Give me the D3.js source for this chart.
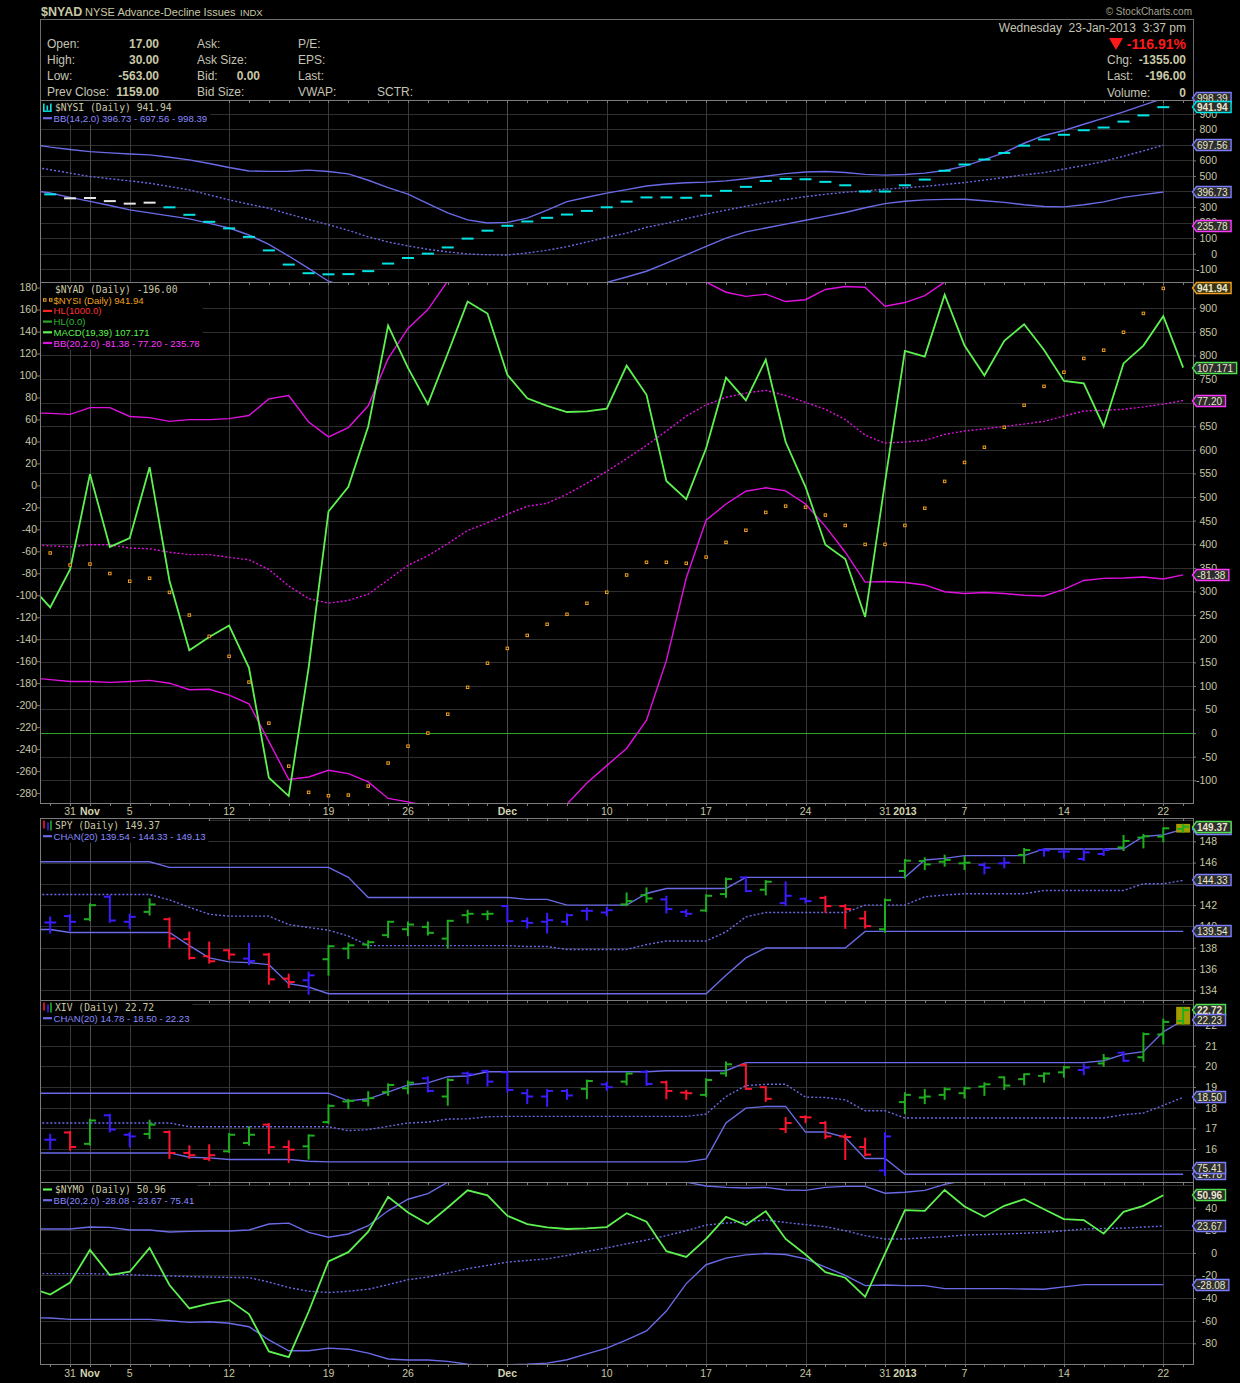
<!DOCTYPE html>
<html>
<head>
<meta charset="utf-8">
<title>$NYAD NYSE Advance-Decline Issues</title>
<script src="https://cdn.jsdelivr.net/npm/d3@7"></script>
<style>
  body { margin: 0; background: #000; }
  svg { display: block; }
</style>
</head>
<body>
<div id="chart"></div>
<script>

// trading days (first one only feeds the lines that run into the left edge)
const days = ["2012-10-25","2012-10-26","2012-10-31","2012-11-01","2012-11-02","2012-11-05","2012-11-06","2012-11-07","2012-11-08","2012-11-09",
  "2012-11-12","2012-11-13","2012-11-14","2012-11-15","2012-11-16","2012-11-19","2012-11-20","2012-11-21","2012-11-23","2012-11-26",
  "2012-11-27","2012-11-28","2012-11-29","2012-11-30","2012-12-03","2012-12-04","2012-12-05","2012-12-06","2012-12-07","2012-12-10",
  "2012-12-11","2012-12-12","2012-12-13","2012-12-14","2012-12-17","2012-12-18","2012-12-19","2012-12-20","2012-12-21","2012-12-24",
  "2012-12-26","2012-12-27","2012-12-28","2012-12-31","2013-01-02","2013-01-03","2013-01-04","2013-01-07","2013-01-08","2013-01-09",
  "2013-01-10","2013-01-11","2013-01-14","2013-01-15","2013-01-16","2013-01-17","2013-01-18","2013-01-22","2013-01-23"];

const tickDays = ["2012-10-31","2012-11-01","2012-11-05","2012-11-12","2012-11-19","2012-11-26","2012-12-03","2012-12-10",
  "2012-12-17","2012-12-24","2012-12-31","2013-01-02","2013-01-07","2013-01-14","2013-01-22"];
const tickText = ["31","Nov","5","12","19","26","Dec","10","17","24","31","2013","7","14","22"];
const tickBold = [0,1,0,0,0,0,1,0,0,0,0,1,0,0,0];

// header quote
const quoteLeftLabels = ["Open:", "High:", "Low:", "Prev Close:"];
const quoteLeftValues = ["17.00", "30.00", "-563.00", "1159.00"];
const quoteMidLabels = ["Ask:", "Ask Size:", "Bid:", "Bid Size:"];
const quoteMidValues = ["", "", "0.00", ""];
const quoteRightLabels = ["P/E:", "EPS:", "Last:", "VWAP:"];
const nyadLast = -196.00;

// $NYSI (summation index) and its BB(14,2)
const nysi = [null, 381.5, 356, 358, 338, 321.7, 328, 298, 250, 205, 162.6, 108, 21, -70, -125.5, -132.7, -131.3, -112.3, -63.5, -27.7,
  0, 40, 97, 148, 179.4, 207, 230.5, 251.6, 275, 298.3, 334.8, 361.8, 361.8, 359.6, 372.7, 404, 429.6, 467.5, 480.7, 478.5,
  461.7, 439.8, 399.7, 399.7, 439.8, 476.3, 533.2, 573.3, 605.4, 647.7, 694.4, 734.5, 764.4, 793.6, 811, 849, 889, 941.94, null];
const nysiWhiteDays = ["2012-10-31","2012-11-01","2012-11-02","2012-11-05","2012-11-06"];
const nysiUpper = [705, 685, 670, 656, 648, 641, 635, 620, 603, 580, 554, 532, 529, 530, 537, 528, 513, 472, 425, 383,
  322, 262, 217, 197, 201, 229, 280, 335, 363, 389, 412, 435, 448, 456, 460, 468, 482, 498, 515, 525,
  528, 522, 510, 505, 509, 518, 535, 563, 605, 650, 710, 760, 792, 832, 872, 912, 955, 998.39, null];
const nysiMid = [560, 540, 518, 496, 482, 468, 453, 432, 410, 378, 346, 318, 292, 255, 220, 186, 150, 108, 75, 50,
  28, 12, -2, -7, -8.6, 5, 22, 45, 75, 105, 132, 170, 195, 225, 254, 280, 305, 328, 348, 367,
  382, 395, 404, 415, 423, 433, 445, 457, 473, 490, 507, 521, 544, 567, 593, 627, 661, 697.56, null];
const nysiLower = [410, 390, 362, 336, 310, 282, 262, 243, 224, 195, 165, 120, 60, -15, -95, -177, -215, -265, -280, -283,
  -265, -241, -222, -211, -218, -220, -236, -228, -213, -185, -150, -113, -60, -8, 47, 100, 140, 165, 190, 215,
  240, 265, 295, 322, 337, 346, 349, 350, 340, 330, 315, 303, 301, 315, 333, 362, 380, 396.73, null];

// MACD(19,39) of $NYAD and its BB(20,2)
const macd = [-91, -111, -76.5, 10.3, -56, -48, 16.6, -86.8, -150, -138, -127.5, -166, -266, -282.7, -166, -23.8, -1.3, 53.6, 145.4, 106.9,
  74, 120, 167.3, 156.4, 100.6, 79.3, 72.4, 66.8, 67.4, 69.9, 109, 82.4, 4, -12.5, 33.8, 98, 77.4, 114.4, 39.5, -1.3,
  -54, -67, -119.7, 3, 122.5, 117.2, 173.6, 127.2, 100, 131.6, 146.7, 123.2, 95, 92.8, 53.6, 111, 127.2, 153.9, 107.171];
const macdUpper = [66, 65.5, 64.6, 70.8, 70.8, 62.7, 61.7, 58.3, 59.9, 59.9, 60.8, 63.6, 78.7, 81.8, 57.7, 44.2, 52.6, 72.4, 115.3, 142.9,
  160, 186, 205, 220, 235, 245, 250, 252, 250, 245, 235, 220, 205, 192, 185, 175.8, 172, 174, 167.3, 169,
  178.3, 181, 180.3, 163, 166.4, 172.7, 185, 195, 205, 215, 225, 232, 236, 238, 240, 238, 236, 235, 235.78];
const macdMid = [-54, -55, -56, -54, -54, -57, -57.7, -60.8, -63, -63, -65.5, -67.7, -76.5, -91.5, -103, -107.2, -104.7, -99, -85.9, -72.7,
  -64, -53, -41, -34, -26.3, -19, -16.3, -8, 2, 12.8, 24.4, 36.4, 49.5, 63, 73.3, 80.2, 84, 86.5, 81.8, 75.5,
  69.3, 59.9, 45.8, 38.5, 39.5, 41, 46.4, 49.5, 51.4, 53.6, 55.8, 58.3, 63, 67.7, 68.3, 69.3, 71.4, 74, 77.20];
const macdLower = [-175, -176.8, -178.4, -178.4, -179.3, -178.4, -177.4, -180, -186, -185.5, -190.8, -198.7, -233, -267.6, -265.4, -259.2, -262.3, -269.8, -284.9, -288,
  -292, -300, -310, -318, -320, -315, -305, -290, -270.8, -255, -239.4, -213.7, -159.5, -84.3, -31.7, -16.9, -5.3, -2.2, -5, -16.9,
  -37.3, -60.8, -88, -87.4, -88.4, -90.6, -96.8, -98.4, -97.5, -98.4, -100, -100.6, -94.6, -86.5, -84.6, -84.3, -83.4, -85.2, -81.38];
const hlLevels = [1000, 0];

// SPY daily bars, impulse colours and CHAN(20)
const spyOpen = [null, 140.37, 140.97, 140.68, 142.79, 140.44, 141.37, 140.68, 138.80, 137.20, 137.76, 136.98, 137.36, 135.10, 134.94, 136.92, 137.92, 138.30, 139.18, 139.74,
  139.96, 138.86, 141.06, 141.15, 141.91, 140.50, 140.44, 140.44, 141.47, 141.31, 142.07, 142.94, 142.54, 141.37, 141.50, 143.04, 144.61, 143.45, 142.19, 142.60,
  142.69, 141.91, 140.75, 139.74, 145.21, 146.15, 146.08, 145.93, 145.77, 145.93, 146.71, 147.18, 147.03, 146.34, 146.81, 147.43, 148.35, 148.44, 149.16];
const spyHigh = [null, 140.84, 141.06, 142.07, 142.85, 141.12, 142.54, 140.75, 139.43, 138.49, 137.76, 138.36, 137.42, 135.47, 135.66, 138.17, 138.39, 138.61, 140.44, 140.37,
  140.37, 140.53, 141.47, 141.41, 141.94, 140.75, 141.19, 141.12, 141.69, 141.75, 143.10, 143.57, 142.79, 141.53, 142.94, 144.51, 144.61, 144.26, 144.14, 142.63,
  142.79, 142.00, 141.37, 142.54, 146.24, 146.40, 146.65, 146.56, 145.93, 146.40, 147.28, 147.28, 147.18, 147.28, 147.28, 148.50, 148.60, 149.22, 149.54];
const spyLow = [null, 139.43, 139.65, 140.59, 140.44, 139.87, 141.12, 138.08, 136.98, 136.60, 136.98, 136.45, 134.62, 134.31, 133.68, 135.47, 137.04, 137.98, 139.02, 139.18,
  139.24, 138.02, 140.37, 140.68, 140.44, 139.90, 139.43, 140.18, 140.65, 141.06, 142.00, 142.32, 141.31, 140.97, 141.44, 142.79, 143.32, 143.01, 142.00, 142.25,
  141.37, 139.87, 139.90, 139.49, 144.58, 145.39, 145.71, 145.39, 144.99, 145.55, 145.99, 146.65, 146.46, 146.24, 146.71, 147.18, 147.43, 148.00, 148.91];
const spyClose = [null, 140.37, 140.44, 142.00, 140.56, 140.90, 142.07, 138.86, 137.04, 136.73, 137.36, 136.76, 135.03, 134.78, 135.41, 138.14, 138.23, 138.52, 140.44, 140.18,
  139.40, 140.53, 141.19, 141.19, 140.50, 140.34, 140.59, 141.06, 141.47, 141.53, 142.38, 142.63, 141.63, 141.19, 142.88, 144.45, 143.32, 144.20, 142.88, 142.38,
  141.91, 141.63, 140.03, 142.47, 146.18, 145.83, 146.24, 145.99, 145.52, 145.99, 147.18, 147.15, 147.03, 146.96, 147.18, 148.03, 148.47, 149.22, 149.37];
const spyImpulse = [null].concat("bbgbbgrrrrbrrbgggggggggbbbbbbggbbggbgbbrrrgggggbbgbbbbgggg".split(""));
const spyChanUpper = [146.08, 146.08, 146.08, 146.08, 146.08, 146.08, 146.08, 145.55, 145.55, 145.55, 145.55, 145.55, 145.55, 145.55, 145.55, 145.55, 144.61,
  142.72, 142.72, 142.72, 142.72, 142.72, 142.72, 142.72, 142.72, 142.54, 142.54, 142.00, 142.00, 142.00, 142.00, 143.10, 143.57, 143.57, 143.57, 143.57,
  144.61, 144.61, 144.61, 144.61, 144.61, 144.61, 144.61, 144.61, 144.61, 146.24, 146.40, 146.65, 146.65, 146.65, 146.65, 147.28, 147.28, 147.28, 147.28,
  147.30, 148.45, 148.60, 149.13];
const spyChanMid = [143.00, 143.00, 143.00, 143.00, 143.00, 143.00, 143.00, 142.50, 141.80, 141.15, 140.97, 140.97, 140.97, 140.18, 139.90, 139.65, 139.10,
  138.20, 138.20, 138.20, 138.20, 138.20, 138.20, 138.20, 138.20, 138.11, 138.11, 137.84, 137.84, 137.84, 137.84, 138.30, 138.63, 138.63, 138.63, 139.49,
  140.90, 141.31, 141.31, 141.31, 141.31, 141.31, 142.00, 142.00, 142.00, 142.79, 142.95, 143.07, 143.07, 143.07, 143.07, 143.38, 143.38, 143.38, 143.38,
  143.38, 144.01, 144.01, 144.33];
const spyChanLower = [139.71, 139.71, 139.43, 139.43, 139.43, 139.43, 139.43, 139.43, 138.20, 137.04, 136.67, 136.60, 136.41, 134.62, 134.31,
  133.68, 133.68, 133.68, 133.68, 133.68, 133.68, 133.68, 133.68, 133.68, 133.68, 133.68, 133.68, 133.68, 133.68, 133.68, 133.68, 133.68, 133.68, 133.68, 133.68,
  135.41, 137.04, 137.98, 137.98, 137.98, 137.98, 137.98, 139.54, 139.54, 139.54, 139.54, 139.54, 139.54, 139.54, 139.54, 139.54, 139.54, 139.54, 139.54,
  139.54, 139.54, 139.54, 139.54, 139.54];

// XIV daily bars, impulse colours and CHAN(20)
const xivOpen = [null, 16.45, 16.80, 16.25, 17.63, 16.69, 16.73, 16.82, 15.81, 15.52, 15.89, 16.29, 17.18, 16.10, 16.13, 17.30, 18.30, 18.33, 18.75, 18.94,
  19.42, 18.54, 19.66, 19.78, 19.71, 18.70, 18.54, 18.81, 18.91, 19.13, 19.26, 19.74, 19.23, 18.73, 18.62, 19.66, 20.07, 18.99, 16.97, 17.55,
  17.26, 16.61, 16.10, 14.96, 18.27, 18.49, 18.62, 18.70, 19.02, 19.47, 19.38, 19.54, 19.71, 19.82, 20.14, 20.66, 20.44, 21.54, 22.20];
const xivHigh = [null, 16.69, 16.82, 17.42, 17.66, 16.77, 17.37, 16.85, 16.13, 16.18, 16.73, 17.05, 17.21, 16.37, 16.66, 18.11, 18.38, 18.75, 19.13, 19.26,
  19.47, 19.38, 19.70, 19.79, 19.74, 18.86, 18.86, 18.86, 19.31, 19.21, 19.66, 19.78, 19.26, 18.81, 19.38, 20.19, 20.10, 18.99, 17.50, 17.58,
  17.30, 16.69, 16.50, 16.77, 18.70, 18.86, 18.94, 18.97, 19.18, 19.47, 19.62, 19.66, 19.98, 20.10, 20.55, 20.68, 21.59, 22.26, 22.83];
const xivLow = [null, 16.00, 15.97, 16.21, 16.85, 16.13, 16.53, 15.57, 15.57, 15.46, 15.86, 16.21, 15.81, 15.38, 15.54, 17.26, 17.98, 18.11, 18.62, 18.70,
  18.78, 18.14, 19.18, 19.07, 18.78, 18.22, 18.09, 18.43, 18.46, 18.86, 19.13, 19.10, 18.46, 18.43, 18.57, 19.55, 18.91, 18.33, 16.82, 17.30,
  16.53, 15.52, 15.70, 14.74, 17.74, 18.22, 18.43, 18.49, 18.62, 18.91, 19.13, 19.26, 19.50, 19.62, 20.03, 20.26, 20.27, 21.11, 22.07];
const xivClose = [null, 16.45, 16.10, 17.38, 16.94, 16.61, 17.18, 15.81, 15.70, 15.70, 16.69, 16.69, 16.09, 15.97, 16.65, 18.09, 18.33, 18.46, 19.10, 19.21,
  18.81, 19.34, 19.62, 19.26, 18.86, 18.54, 18.81, 18.59, 19.29, 18.99, 19.65, 19.15, 18.81, 18.70, 19.34, 20.10, 18.91, 18.43, 17.26, 17.53,
  16.61, 16.58, 15.73, 16.61, 18.62, 18.54, 18.89, 18.94, 19.13, 19.07, 19.62, 19.65, 19.95, 19.94, 20.39, 20.27, 21.56, 22.15, 22.72];
const xivImpulse = [null].concat("brgbbgrrrggrrggggggbgbbbbbbgbgbrrggrrrrrrrbgggggggggbgbggg".split(""));
const xivChanUpper = [18.70, 18.70, 18.70, 18.70, 18.70, 18.70, 18.70, 18.70, 18.70, 18.70, 18.70, 18.70, 18.70, 18.70, 18.70, 18.70,
  18.33, 18.43, 18.75, 19.10, 19.20, 19.50, 19.53, 19.74, 19.74, 19.74, 19.74, 19.74, 19.74, 19.74, 19.74, 19.74, 19.79, 19.79, 19.79, 19.79,
  20.18, 20.18, 20.18, 20.18, 20.18, 20.18, 20.18, 20.18, 20.18, 20.18, 20.18, 20.18, 20.18, 20.18, 20.18, 20.18, 20.18, 20.18,
  20.27, 20.58, 20.71, 21.67, 22.23];
const xivChanMid = [17.26, 17.26, 17.26, 17.26, 17.26, 17.26, 17.26, 17.26, 17.08, 17.08, 17.08, 17.08, 17.08, 17.08, 17.08, 17.08,
  16.89, 16.94, 17.10, 17.26, 17.30, 17.45, 17.46, 17.56, 17.58, 17.58, 17.58, 17.58, 17.58, 17.58, 17.58, 17.58, 17.58, 17.58,
  17.69, 18.54, 19.07, 19.13, 19.13, 18.51, 18.49, 18.38, 17.85, 17.85, 17.50, 17.50, 17.50, 17.50, 17.50, 17.50, 17.50, 17.50, 17.50, 17.50, 17.50,
  17.66, 17.74, 18.11, 18.50];
const xivChanLower = [15.81, 15.81, 15.81, 15.81, 15.81, 15.81, 15.81, 15.81, 15.60, 15.57, 15.49, 15.49, 15.49, 15.49, 15.41,
  15.38, 15.38, 15.38, 15.38, 15.38, 15.38, 15.38, 15.38, 15.38, 15.38, 15.38, 15.38, 15.38, 15.38, 15.38, 15.38, 15.38, 15.38, 15.38,
  15.52, 17.26, 17.98, 18.06, 18.06, 16.82, 16.82, 16.56, 15.54, 15.54,
  14.78, 14.78, 14.78, 14.78, 14.78, 14.78, 14.78, 14.78, 14.78, 14.78, 14.78, 14.78, 14.78, 14.78, 14.78];

// $NYMO (McClellan oscillator) and its BB(20,2)
const nymo = [-31, -36.9, -26.3, 2.6, -19.6, -16.7, 4.4, -28.4, -49.2, -44.8, -41.8, -54.1, -87.2, -92.2, -52.1, -7.6, 0.6, 18.7, 49.5, 35.7,
  25.5, 40.1, 55.3, 50.9, 32.8, 25.5, 22.5, 21.1, 21.7, 22.8, 35.1, 27.5, 1.5, -3.6, 12.3, 31.9, 24.6, 36.9, 12.3, -1.5,
  -17, -22, -38.9, -0.6, 37.8, 37.2, 55.6, 41, 31.9, 41.6, 47.4, 38.6, 29.9, 29, 17, 36.3, 41.6, 50.96, null];
const nymoUpper = [21.1, 21.1, 21.1, 22.8, 22.5, 20.2, 20.2, 18.4, 19, 19.3, 19.3, 20.2, 25.5, 26.3, 18.1, 13.8, 16.7, 24, 37.2, 47.4,
  52.4, 62.5, 70, 78, 82, 85, 86, 85, 82, 78, 74, 70, 66, 62.5, 59.1, 57.9, 57.4, 57.9, 55.6, 55.3,
  57.9, 58.8, 58.8, 52.7, 53.6, 55.3, 60.6, 64, 67, 70, 72, 73, 74, 75, 75, 75.5, 75.5, 75.41, null];
const nymoMid = [-18.4, -18.4, -18.4, -18.4, -18.8, -19.3, -19.9, -20.5, -21, -21.4, -21.7, -21.9, -25.8, -30.7, -33.9, -35.1, -33.9, -32.2, -28.1, -23.7,
  -21.4, -17.9, -14, -11.1, -8.2, -6.7, -5.3, -2.3, 1.2, 4.4, 8, 11.4, 15.2, 19.6, 24.6, 26.3, 27.6, 29, 26.9, 24.9,
  23.1, 19.6, 15.2, 12.3, 12.3, 13.3, 14.3, 15.8, 16.2, 16.7, 17.4, 18.1, 19.6, 21.1, 21.5, 21.9, 22.8, 23.67, null];
const nymoLower = [-57.4, -57.6, -58.8, -58.8, -58.8, -58.8, -58.8, -60, -61.5, -60.9, -62.3, -65.3, -77, -86.6, -86.6, -84.3, -85.2, -88.7, -93.9, -94.8,
  -94.8, -96, -98.5, -100, -99, -98.5, -97.5, -94.5, -89.3, -84.3, -77, -69.1, -51.5, -27.2, -10.5, -4.7, -1.8, -0.6, -1.5, -5.3,
  -12.6, -19.9, -29, -28.4, -29, -29, -31.6, -31.6, -31.6, -31.6, -32, -32.2, -30.1, -28.1, -28.1, -28.1, -28.1, -28.08, null];

// tick values of the price axes
const nysiTicks = [-100, 0, 100, 200, 300, 400, 500, 600, 700, 800, 900];
const macdTicks = [-280, -260, -240, -220, -200, -180, -160, -140, -120, -100, -80, -60, -40, -20, 0, 20, 40, 60, 80, 100, 120, 140, 160, 180];
const nysiOverlayTicks = [-100, -50, 0, 50, 100, 150, 200, 250, 300, 350, 400, 450, 500, 550, 600, 650, 700, 750, 800, 850, 900];
const spyTicks = [134, 136, 138, 140, 142, 144, 146, 148];
const spyGrid = [134, 136, 138, 140, 142, 144, 146, 148, 150];
const xivTicks = [15, 16, 17, 18, 19, 20, 21, 22];
const xivGrid = [15, 16, 17, 18, 19, 20, 21, 22, 23];
const nymoTicks = [-80, -60, -40, -20, 0, 20, 40];
const nymoGrid = [-80, -60, -40, -20, 0, 20, 40, 60];

// ---------------------------------------------------------------

const W = 1240, H = 1383;
const left = 40, right = 1193;
const sans = '"Liberation Sans", Arial, sans-serif';
const mono = '"DejaVu Sans Mono", monospace';

const khaki = '#c8c8a6';
const bbLine = '#6a6ae6';
const bbText = '#8a8aff';
const magenta = '#e010e0';
const magentaText = '#ff38ff';
const macdGreen = '#5ef250';
const hlGreen = '#2aa52a';
const orange = '#eea020';
const cyan = '#00e4e4';
const barColor = { g: '#1fae1f', r: '#ff1430', b: '#3a1cff' };

const panels = {
  nysi: { top: 100, bottom: 282 },
  nyad: { top: 282, bottom: 803 },
  spy: { top: 818, bottom: 1000 },
  xiv: { top: 1000, bottom: 1182 },
  nymo: { top: 1182, bottom: 1364 }
};

const svg = d3.select('#chart').append('svg')
  .attr('width', W)
  .attr('height', H)
  .attr('font-family', sans);
svg.append('rect').attr('width', W).attr('height', H).attr('fill', '#000');
const defs = svg.append('defs');

const x = d3.scalePoint().domain(days).range([20.4, 1193.1]).padding(0.5);

const yNysi = d3.scaleLinear().domain([-182, 988]).range([282, 100]);
const yMacd = d3.scaleLinear().domain([-289.4, 185.1]).range([803.4, 282]);
const yNysi2 = d3.scaleLinear().domain([-148.9, 955.5]).range([803.4, 282]);
const ySpy = d3.scaleLinear().domain([133.09, 150.16]).range([1000, 818.3]);
const yXiv = d3.scaleLinear().domain([14.37, 23.21]).range([1182.7, 1000]);
const yNymo = d3.scaleLinear().domain([-98.3, 62.4]).range([1364, 1182.3]);

const lastVal = arr => { for (let i = arr.length - 1; i >= 0; i--) if (arr[i] != null) return arr[i]; };
const f2 = v => v.toFixed(2);

// grid + clip for one panel, returns the clipped group for the marks
function frame(p, gridVals, gridScale, id) {
  const g = svg.append('g');
  g.selectAll('line.hg')
    .data(gridVals.filter(v => gridScale(v) > p.top + 1 && gridScale(v) < p.bottom - 1))
    .join('line')
      .attr('class', 'hg')
      .attr('x1', left).attr('x2', right)
      .attr('y1', v => Math.round(gridScale(v)) + 0.5)
      .attr('y2', v => Math.round(gridScale(v)) + 0.5)
      .attr('stroke', '#2f2f2f');
  g.selectAll('line.vg')
    .data(tickDays)
    .join('line')
      .attr('class', 'vg')
      .attr('x1', d => Math.round(x(d)) + 0.5).attr('x2', d => Math.round(x(d)) + 0.5)
      .attr('y1', p.top).attr('y2', p.bottom)
      .attr('stroke', (d, i) => tickBold[i] ? '#4c4c4c' : '#393939');

  defs.append('clipPath').attr('id', id)
    .append('rect')
      .attr('x', left).attr('y', p.top)
      .attr('width', right - left).attr('height', p.bottom - p.top);

  return svg.append('g').attr('clip-path', `url(#${id})`);
}

function border(p) {
  svg.append('rect')
    .attr('x', left + 0.5).attr('y', p.top + 0.5)
    .attr('width', right - left).attr('height', p.bottom - p.top)
    .attr('fill', 'none')
    .attr('stroke', '#7c7c7c');
  // little day ticks hanging from the top edge
  svg.append('g').selectAll('line')
    .data(days.filter(d => x(d) > left + 2))
    .join('line')
      .attr('x1', d => Math.round(x(d)) + 0.5).attr('x2', d => Math.round(x(d)) + 0.5)
      .attr('y1', p.top).attr('y2', p.top + 3)
      .attr('stroke', '#7c7c7c');
}

function drawLine(parent, values, yScale, color, dotted, w) {
  const line = d3.line()
    .defined(d => d != null)
    .x((d, i) => x(days[i]))
    .y(d => yScale(d));
  parent.append('path')
    .datum(values)
    .attr('d', line)
    .attr('fill', 'none')
    .attr('stroke', color)
    .attr('stroke-width', w || 1.2)
    .attr('stroke-dasharray', dotted ? '2,2' : null);
}

function drawBars(parent, O, Hi, Lo, C, colors, yScale) {
  const data = days.map((d, i) => ({ d, o: O[i], h: Hi[i], l: Lo[i], c: C[i], col: colors[i] }))
    .filter(e => e.o != null);
  const last = data[data.length - 1];
  // highlight box on the latest bar
  parent.append('rect')
    .attr('x', x(last.d) - 7).attr('width', 14)
    .attr('y', yScale(last.h) - 1).attr('height', yScale(last.l) - yScale(last.h) + 2)
    .attr('fill', '#a39c00');

  const bars = parent.selectAll('g.bar')
    .data(data)
    .join('g')
      .attr('class', 'bar')
      .attr('stroke', e => barColor[e.col])
      .attr('stroke-width', 2);
  bars.append('line')
    .attr('x1', e => x(e.d)).attr('x2', e => x(e.d))
    .attr('y1', e => yScale(e.h) - 1).attr('y2', e => yScale(e.l) + 1);
  bars.append('line')
    .attr('x1', e => x(e.d) - 6).attr('x2', e => x(e.d))
    .attr('y1', e => yScale(e.o)).attr('y2', e => yScale(e.o));
  bars.append('line')
    .attr('x1', e => x(e.d)).attr('x2', e => x(e.d) + 6)
    .attr('y1', e => yScale(e.c)).attr('y2', e => yScale(e.c));
}

// right-axis tick labels are kept so the ones sitting under a value tag can be dropped later
const rightTicks = [];

function rightAxis(scale, vals) {
  const g = svg.append('g')
    .attr('transform', `translate(${right},0)`)
    .call(d3.axisRight(scale).tickValues(vals).tickSize(3).tickFormat(d => String(d)));
  g.attr('font-family', sans).attr('font-size', 10.5);
  g.select('.domain').remove();
  g.selectAll('line').attr('stroke', '#7c7c7c');
  g.selectAll('text').attr('x', 24).attr('text-anchor', 'end').attr('fill', khaki);
  rightTicks.push({ g, scale });
}

function leftAxis(scale, vals) {
  const g = svg.append('g')
    .attr('transform', `translate(${left},0)`)
    .call(d3.axisLeft(scale).tickValues(vals).tickSize(3).tickFormat(d => String(d)));
  g.attr('font-family', sans).attr('font-size', 10.5);
  g.select('.domain').remove();
  g.selectAll('line').attr('stroke', '#7c7c7c');
  g.selectAll('text').attr('x', -3).attr('fill', khaki);
}

function dateLabels(y, p) {
  const g = svg.append('g');
  g.selectAll('line')
    .data(days.filter(d => x(d) > left + 2))
    .join('line')
      .attr('x1', d => Math.round(x(d)) + 0.5).attr('x2', d => Math.round(x(d)) + 0.5)
      .attr('y1', p.bottom).attr('y2', p.bottom + 3)
      .attr('stroke', '#7c7c7c');
  g.selectAll('text')
    .data(tickDays)
    .join('text')
      .attr('x', d => x(d))
      .attr('y', y)
      .attr('text-anchor', 'middle')
      .attr('font-size', 10.5)
      .attr('font-weight', (d, i) => tickBold[i] ? 'bold' : 'normal')
      .attr('fill', (d, i) => tickBold[i] ? '#d4d4b0' : khaki)
      .text((d, i) => tickText[i]);
}

// legend rows: first row in mono, the others in a narrow sans
function legend(p, rows) {
  const g = svg.append('g');
  const bg = g.append('rect').attr('fill', '#000');
  rows.forEach((r, i) => {
    const yb = p.top + 11 + i * 10.7;
    const yc = yb - 3.5;
    if (r.icon === 'line') {
      g.append('line').attr('x1', 43).attr('x2', 52).attr('y1', yc).attr('y2', yc)
        .attr('stroke', r.iconColor).attr('stroke-width', 2.2);
    } else if (r.icon === 'dash') {
      [43, 46.5, 50].forEach((px, k) => g.append('rect')
        .attr('x', px).attr('y', yc - (k === 1 ? 2 : 4)).attr('width', 1.6).attr('height', k === 1 ? 5 : 8)
        .attr('fill', cyan));
      g.append('rect').attr('x', 43).attr('y', yc + 3).attr('width', 8.6).attr('height', 1.4).attr('fill', cyan);
    } else if (r.icon === 'squares') {
      [43.5, 49.5].forEach(px => g.append('rect')
        .attr('x', px).attr('y', yc - 1.5).attr('width', 2.5).attr('height', 2.5)
        .attr('fill', 'none').attr('stroke', orange).attr('stroke-width', 1));
    } else if (r.icon === 'ohlc') {
      g.append('line').attr('x1', 44).attr('x2', 44).attr('y1', yc - 5).attr('y2', yc + 3).attr('stroke', barColor.r).attr('stroke-width', 1.6);
      g.append('line').attr('x1', 48).attr('x2', 48).attr('y1', yc - 3).attr('y2', yc + 5).attr('stroke', barColor.b).attr('stroke-width', 1.6);
      g.append('line').attr('x1', 51).attr('x2', 51).attr('y1', yc - 5).attr('y2', yc + 5).attr('stroke', barColor.g).attr('stroke-width', 1.6);
    }
    g.append('text')
      .attr('x', i === 0 ? 55 : 53.5)
      .attr('y', yb)
      .attr('font-family', i === 0 ? mono : sans)
      .attr('font-size', i === 0 ? 9.7 : 9.6)
      .attr('fill', r.color)
      .text(r.text);
  });
  const bb = g.node().getBBox();
  bg.attr('x', bb.x - 2).attr('y', bb.y - 1).attr('width', bb.width + 5).attr('height', bb.height + 2);
}

// value tag on the right axis
const tagYs = [];
function tag(y, text, stroke, bold, fill) {
  tagYs.push(y);
  const g = svg.append('g').attr('transform', `translate(${right - 1},${Math.round(y)})`);
  const t = g.append('text')
    .attr('x', 5)
    .attr('dy', '0.36em')
    .attr('font-size', 10)
    .attr('font-weight', bold ? 'bold' : 'normal')
    .attr('fill', '#e8e8cc')
    .text(text);
  const w = t.node().getComputedTextLength();
  g.insert('path', 'text')
    .attr('d', `M0.5,0 L4.5,-5.5 H${w + 8.5} V5.5 H4.5 Z`)
    .attr('fill', fill || '#2c2c2c')
    .attr('stroke', stroke)
    .attr('stroke-width', 1.4);
}

// ---- header ----
const head = svg.append('g');
head.append('rect')
  .attr('x', left + 0.5).attr('y', 19.5)
  .attr('width', right - left).attr('height', 81)
  .attr('fill', 'none').attr('stroke', '#6c6c6c');
head.append('text').attr('x', 41).attr('y', 16).attr('font-size', 12.5).attr('font-weight', 'bold').attr('fill', khaki).text('$NYAD');
head.append('text').attr('x', 85).attr('y', 16).attr('font-size', 11).attr('fill', khaki).text('NYSE Advance-Decline Issues');
head.append('text').attr('x', 240).attr('y', 16).attr('font-size', 9.5).attr('fill', khaki).text('INDX');
head.append('text').attr('x', 1192).attr('y', 15).attr('text-anchor', 'end').attr('font-size', 10).attr('fill', '#a4a490').text('\u00a9 StockCharts.com');

const rowY = [47.5, 63.5, 79.5, 96];
quoteLeftLabels.forEach((lbl, i) => {
  head.append('text').attr('x', 47).attr('y', rowY[i]).attr('font-size', 12).attr('fill', '#c4c4b4').text(lbl);
  head.append('text').attr('x', 159).attr('y', rowY[i]).attr('text-anchor', 'end').attr('font-size', 12)
    .attr('font-weight', 'bold').attr('fill', khaki).text(quoteLeftValues[i]);
});
quoteMidLabels.forEach((lbl, i) => {
  head.append('text').attr('x', 197).attr('y', rowY[i]).attr('font-size', 12).attr('fill', '#c4c4b4').text(lbl);
  head.append('text').attr('x', 260).attr('y', rowY[i]).attr('text-anchor', 'end').attr('font-size', 12)
    .attr('font-weight', 'bold').attr('fill', khaki).text(quoteMidValues[i]);
});
quoteRightLabels.forEach((lbl, i) => {
  head.append('text').attr('x', 298).attr('y', rowY[i]).attr('font-size', 12).attr('fill', '#c4c4b4').text(lbl);
});
head.append('text').attr('x', 377).attr('y', rowY[3]).attr('font-size', 12).attr('fill', '#c4c4b4').text('SCTR:');

head.append('text').attr('x', 1186).attr('y', 31.5).attr('text-anchor', 'end').attr('font-size', 12)
  .attr('fill', '#c4c4b4').style('white-space', 'pre').text('Wednesday  23-Jan-2013  3:37 pm');
head.append('path').attr('d', 'M1109,38 H1123 L1116,50 Z').attr('fill', '#ff1a1a');
head.append('text').attr('x', 1186).attr('y', 48.5).attr('text-anchor', 'end').attr('font-size', 14)
  .attr('font-weight', 'bold').attr('fill', '#ff1a1a').text('-116.91%');
[['Chg:', '-1355.00', 64], ['Last:', f2(nyadLast), 80], ['Volume:', '0', 96.5]].forEach(r => {
  head.append('text').attr('x', 1107).attr('y', r[2]).attr('font-size', 12).attr('fill', '#c4c4b4').text(r[0]);
  head.append('text').attr('x', 1186).attr('y', r[2]).attr('text-anchor', 'end').attr('font-size', 12)
    .attr('font-weight', 'bold').attr('fill', khaki).text(r[1]);
});

// ---- panel 1: $NYSI with BB(14,2) ----
const p1 = frame(panels.nysi, nysiTicks, yNysi, 'clip1');
drawLine(p1, nysiUpper, yNysi, bbLine, false, 1.4);
drawLine(p1, nysiMid, yNysi, bbLine, true, 1.4);
drawLine(p1, nysiLower, yNysi, bbLine, false, 1.4);
p1.selectAll('rect.dash')
  .data(days.map((d, i) => ({ d, v: nysi[i] })).filter(e => e.v != null))
  .join('rect')
    .attr('class', 'dash')
    .attr('x', e => x(e.d) - 6).attr('width', 12)
    .attr('y', e => yNysi(e.v) - 1).attr('height', 2)
    .attr('fill', e => nysiWhiteDays.includes(e.d) ? '#e8e8e8' : cyan);
border(panels.nysi);
rightAxis(yNysi, nysiTicks);
legend(panels.nysi, [
  { text: `$NYSI (Daily) ${f2(lastVal(nysi))}`, color: khaki, icon: 'dash' },
  { text: `BB(14,2.0) ${f2(lastVal(nysiLower))} - ${f2(lastVal(nysiMid))} - ${f2(lastVal(nysiUpper))}`, color: bbText, icon: 'line', iconColor: bbLine }
]);

// ---- panel 2: MACD of $NYAD, BB, $NYSI overlay ----
const p2 = frame(panels.nyad, nysiOverlayTicks, yNysi2, 'clip2');
hlLevels.forEach((lv, k) => {
  p2.append('line')
    .attr('x1', left).attr('x2', right)
    .attr('y1', Math.round(yNysi2(lv)) + 0.5).attr('y2', Math.round(yNysi2(lv)) + 0.5)
    .attr('stroke', k === 0 ? '#ff2020' : hlGreen);
});
drawLine(p2, macdUpper, yMacd, magenta, false, 1.4);
drawLine(p2, macdMid, yMacd, magenta, true, 1.4);
drawLine(p2, macdLower, yMacd, magenta, false, 1.4);
drawLine(p2, macd, yMacd, macdGreen, false, 1.8);
p2.selectAll('rect.sq')
  .data(days.map((d, i) => ({ d, v: nysi[i] })).filter(e => e.v != null))
  .join('rect')
    .attr('class', 'sq')
    .attr('x', e => x(e.d) - 1.25).attr('y', e => yNysi2(e.v) - 1.25)
    .attr('width', 2.5).attr('height', 2.5)
    .attr('fill', '#000').attr('stroke', orange).attr('stroke-width', 1);
border(panels.nyad);
leftAxis(yMacd, macdTicks);
rightAxis(yNysi2, nysiOverlayTicks);
dateLabels(815, panels.nyad);
legend(panels.nyad, [
  { text: `$NYAD (Daily) ${f2(nyadLast)}`, color: khaki },
  { text: `$NYSI (Daily) ${f2(lastVal(nysi))}`, color: orange, icon: 'squares' },
  { text: `HL(${hlLevels[0].toFixed(1)})`, color: '#ff3030', icon: 'line', iconColor: '#ff2020' },
  { text: `HL(${hlLevels[1].toFixed(1)})`, color: '#34b834', icon: 'line', iconColor: hlGreen },
  { text: `MACD(19,39) ${lastVal(macd).toFixed(3)}`, color: macdGreen, icon: 'line', iconColor: macdGreen },
  { text: `BB(20,2.0) ${f2(lastVal(macdLower))} - ${f2(lastVal(macdMid))} - ${f2(lastVal(macdUpper))}`, color: magentaText, icon: 'line', iconColor: magenta }
]);

// ---- panel 3: SPY ----
const p3 = frame(panels.spy, spyGrid, ySpy, 'clip3');
drawLine(p3, spyChanUpper, ySpy, bbLine, false, 1.4);
drawLine(p3, spyChanMid, ySpy, bbLine, true, 1.4);
drawLine(p3, spyChanLower, ySpy, bbLine, false, 1.4);
drawBars(p3, spyOpen, spyHigh, spyLow, spyClose, spyImpulse, ySpy);
border(panels.spy);
rightAxis(ySpy, spyTicks);
legend(panels.spy, [
  { text: `SPY (Daily) ${f2(lastVal(spyClose))}`, color: khaki, icon: 'ohlc' },
  { text: `CHAN(20) ${f2(lastVal(spyChanLower))} - ${f2(lastVal(spyChanMid))} - ${f2(lastVal(spyChanUpper))}`, color: bbText, icon: 'line', iconColor: bbLine }
]);

// ---- panel 4: XIV ----
const p4 = frame(panels.xiv, xivGrid, yXiv, 'clip4');
drawLine(p4, xivChanUpper, yXiv, bbLine, false, 1.4);
drawLine(p4, xivChanMid, yXiv, bbLine, true, 1.4);
drawLine(p4, xivChanLower, yXiv, bbLine, false, 1.4);
drawBars(p4, xivOpen, xivHigh, xivLow, xivClose, xivImpulse, yXiv);
border(panels.xiv);
rightAxis(yXiv, xivTicks);
legend(panels.xiv, [
  { text: `XIV (Daily) ${f2(lastVal(xivClose))}`, color: khaki, icon: 'ohlc' },
  { text: `CHAN(20) ${f2(lastVal(xivChanLower))} - ${f2(lastVal(xivChanMid))} - ${f2(lastVal(xivChanUpper))}`, color: bbText, icon: 'line', iconColor: bbLine }
]);

// ---- panel 5: $NYMO ----
const p5 = frame(panels.nymo, nymoGrid, yNymo, 'clip5');
drawLine(p5, nymoUpper, yNymo, bbLine, false, 1.4);
drawLine(p5, nymoMid, yNymo, bbLine, true, 1.4);
drawLine(p5, nymoLower, yNymo, bbLine, false, 1.4);
drawLine(p5, nymo, yNymo, macdGreen, false, 1.8);
border(panels.nymo);
rightAxis(yNymo, nymoTicks);
dateLabels(1377, panels.nymo);
legend(panels.nymo, [
  { text: `$NYMO (Daily) ${f2(lastVal(nymo))}`, color: khaki, icon: 'line', iconColor: macdGreen },
  { text: `BB(20,2.0) ${f2(lastVal(nymoLower))} - ${f2(lastVal(nymoMid))} - ${f2(lastVal(nymoUpper))}`, color: bbText, icon: 'line', iconColor: bbLine }
]);

// ---- value tags (drawn last, they may spill over neighbouring panels) ----
const purple = '#7c7cff';
const tagGreen = '#4ee04e';
tag(yNysi(lastVal(nysiUpper)), f2(lastVal(nysiUpper)), purple);
tag(yNysi(lastVal(nysi)), f2(lastVal(nysi)), cyan, true);
tag(yNysi(lastVal(nysiMid)), f2(lastVal(nysiMid)), purple);
tag(yNysi(lastVal(nysiLower)), f2(lastVal(nysiLower)), purple);
tag(yMacd(lastVal(macdUpper)), f2(lastVal(macdUpper)), magentaText);

tag(yNysi2(lastVal(nysi)), f2(lastVal(nysi)), orange, true, '#3a3212');
tag(yMacd(lastVal(macd)), lastVal(macd).toFixed(3), tagGreen);
tag(yMacd(lastVal(macdMid)), f2(lastVal(macdMid)), magentaText);
tag(yMacd(lastVal(macdLower)), f2(lastVal(macdLower)), magentaText);

tag(ySpy(lastVal(spyChanUpper)), f2(lastVal(spyChanUpper)), purple);
tag(ySpy(lastVal(spyClose)), f2(lastVal(spyClose)), tagGreen, true);
tag(ySpy(lastVal(spyChanMid)), f2(lastVal(spyChanMid)), purple);
tag(ySpy(lastVal(spyChanLower)), f2(lastVal(spyChanLower)), purple);

tag(yXiv(lastVal(xivClose)), f2(lastVal(xivClose)), tagGreen, true);
tag(yXiv(lastVal(xivChanUpper)), f2(lastVal(xivChanUpper)), purple);
tag(yXiv(lastVal(xivChanMid)), f2(lastVal(xivChanMid)), purple);
tag(yXiv(lastVal(xivChanLower)), f2(lastVal(xivChanLower)), purple);
tag(yNymo(lastVal(nymoUpper)), f2(lastVal(nymoUpper)), purple);

tag(yNymo(lastVal(nymo)), f2(lastVal(nymo)), tagGreen, true);
tag(yNymo(lastVal(nymoMid)), f2(lastVal(nymoMid)), purple);
tag(yNymo(lastVal(nymoLower)), f2(lastVal(nymoLower)), purple);

// tick labels fully hidden behind a tag are not shown in the original either
rightTicks.forEach(({ g, scale }) => {
  g.selectAll('.tick').each(function (d) {
    const yy = scale(d);
    if (tagYs.some(t => Math.abs(t - yy) < 3.6)) d3.select(this).select('text').remove();
  });
});

</script>
</body>
</html>
